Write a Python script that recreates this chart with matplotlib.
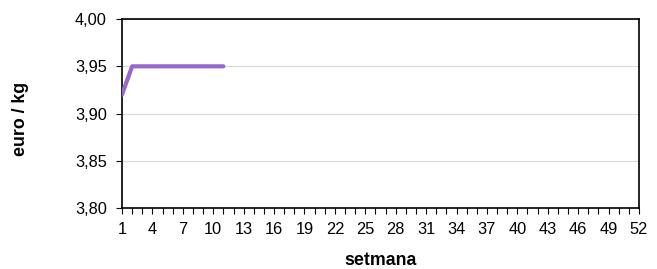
import matplotlib
matplotlib.use('Agg')
from matplotlib import pyplot as plt
from matplotlib.ticker import FixedLocator, FuncFormatter

plt.rcParams['font.family'] = ['Liberation Sans', 'DejaVu Sans']

# dades
setmana = [1, 2, 3, 4, 5, 6, 7, 8, 9, 10, 11]
preu = [3.92, 3.95, 3.95, 3.95, 3.95, 3.95, 3.95, 3.95, 3.95, 3.95, 3.95]

fig = plt.figure(figsize=(6.57, 2.69), dpi=100)
ax = fig.add_axes([0.1857, 0.2268, 0.7869, 0.7022])

ax.plot(setmana, preu, color='#9966cc', linewidth=3.0, solid_capstyle='round', zorder=3)

ax.set_xlim(1, 52)
ax.set_ylim(3.80, 4.00)
ax.xaxis.set_major_locator(FixedLocator(range(1, 53, 3)))
ax.xaxis.set_minor_locator(FixedLocator(range(1, 53)))
ax.set_yticks([3.80, 3.85, 3.90, 3.95, 4.00])
ax.yaxis.set_major_formatter(FuncFormatter(lambda v, p: f'{v:.2f}'.replace('.', ',')))

ax.grid(axis='y', color='#d9d9d9', linewidth=0.8)
ax.set_axisbelow(True)
for s in ax.spines.values():
    s.set_linewidth(1.2)
    s.set_color('black')

ax.tick_params(axis='y', which='major', labelsize=11.8, direction='out', length=4, width=0.8, pad=7)
ax.tick_params(axis='x', which='major', labelsize=11.8, direction='out', length=4, width=0.8, pad=6)
ax.tick_params(axis='x', which='minor', direction='out', length=4, width=0.8)

ax.set_xlabel('setmana', fontsize=12.8, fontweight='bold')
ax.set_ylabel('euro / kg', fontsize=12.8, fontweight='bold')
ax.xaxis.set_label_coords(0.5, -0.28)
ax.yaxis.set_label_coords(-0.197, 0.47)
ax.xaxis.label.set_va('center')
ax.yaxis.label.set_va('center')

fig.savefig('out.png', dpi=100)
